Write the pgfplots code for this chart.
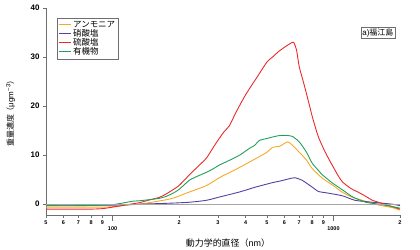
\documentclass[border=0pt]{standalone}
\usepackage{fontspec}
\setmainfont{Liberation Sans}
\newfontfamily\jp{Noto Sans CJK JP}
\usepackage{pgfplots}
\pgfplotsset{compat=1.18}
\definecolor{cAmm}{RGB}{246,168,38}
\definecolor{cNit}{RGB}{88,62,160}
\definecolor{cSul}{RGB}{236,40,40}
\definecolor{cOrg}{RGB}{30,160,90}
\definecolor{axgray}{RGB}{110,110,110}
\begin{document}
\begin{tikzpicture}
\begin{axis}[
  scale only axis, width=354bp, height=207bp,
  xmode=log, xmin=50, xmax=2000, ymin=-2.2, ymax=40,
  axis lines=left, axis line style={-, axgray},
  /pgf/number format/assume math mode=true,
  tick align=outside, tick style={axgray},
  major tick length=3bp,
  ytick={0,10,20,30,40},
  yticklabel style={font=\bfseries\fontsize{8}{8}\selectfont},
  xtick={50,60,70,80,90,200,300,400,500,600,700,800,900,2000},
  xticklabels={5,6,7,8,9,2,3,4,5,6,7,8,9,2},
  xticklabel style={font=\bfseries\fontsize{5.5}{5.5}\selectfont, yshift=1bp},
  extra x ticks={100,1000},
  extra x tick labels={100,1000},
  extra x tick style={major tick length=6bp, tick label style={font=\fontsize{10}{10}\selectfont, yshift=-3bp}},
  xlabel={{\jp 動力学的直径（}nm{\jp ）}},
  xlabel style={at={(axis description cs:0.514,-0.135)}, anchor=center, font=\fontsize{9}{9}\selectfont},
  ylabel={{\jp 重量濃度（}μgm\textsuperscript{−3}{\jp ）}},
  ylabel style={at={(axis description cs:-0.1,0.5)}, anchor=center, font=\fontsize{8}{8}\selectfont},
  legend style={at={(rel axis cs:0.031,0.952)}, anchor=north west, draw=axgray,
    font=\jp\fontsize{8.5}{8.5}\selectfont, inner sep=1pt, row sep=-3.5pt},
  legend cell align=left,
  legend image code/.code={\draw[#1, line width=1pt] plot coordinates {(0bp,0bp) (12bp,0bp)};},
  every axis plot/.append style={line width=0.9pt, smooth, tension=0.4},
]
\addplot[cAmm] coordinates {
(50,-0.6)(70,-0.6)(90,-0.6)(100,-0.5)(115,-0.2)(132,0)(160,0.6)(187,1.2)(223,2.5)
(266,3.8)(307,5.5)(340,6.5)(376,7.5)(445,9.3)(500,10.6)(530,11.6)(570,11.8)(620,12.7)
(653,12)(700,10.6)(755,9)(800,7.3)(890,5.3)(990,3.9)(1100,2.4)(1220,1.4)(1400,0.6)
(1610,-0.2)(1850,-0.7)(2000,-1.2)};
\addlegendentry{アンモニア}
\addplot[cNit] coordinates {
(50,-0.2)(70,-0.2)(90,-0.2)(100,-0.2)(132,0)(180,0.2)(223,0.4)(266,0.8)(307,1.5)
(376,2.5)(445,3.5)(530,4.4)(570,4.7)(620,5.1)(667,5.4)(720,4.9)(760,4.2)(800,3.5)
(855,2.6)(935,2.3)(1100,1.7)(1250,0.8)(1500,0.4)(1850,0)(2000,-0.3)};
\addlegendentry{硝酸塩}
\addplot[cSul] coordinates {
(50,-1)(60,-1)(70,-1)(80,-1)(90,-0.9)(100,-0.6)(110,-0.3)(120,0)(132,0.3)(145,0.8)
(163,1.4)(175,2.1)(187,2.9)(200,3.8)(223,6)(245,7.8)(266,9.4)(285,11.5)(305,13.5)
(320,14.8)(338,16)(360,18.5)(380,20.5)(400,22.3)(430,24.5)(460,26.5)(500,29)(530,30)
(560,31)(600,32)(640,32.8)(660,33)(680,31.5)(700,28)(725,25.5)(750,23)(780,20)(800,18)
(850,14)(900,11.4)(950,9.3)(1000,7.5)(1050,5.8)(1100,4.5)(1200,3.2)(1300,2.4)(1400,1.6)
(1500,0.8)(1600,0.4)(1700,0)(1850,-0.5)(2000,-1)};
\addlegendentry{硫酸塩}
\addplot[cOrg] coordinates {
(50,-0.3)(70,-0.3)(90,-0.2)(100,-0.1)(110,0.2)(123,0.6)(132,0.7)(145,0.9)(163,1.2)
(175,1.6)(187,2.2)(200,3)(223,4.9)(245,5.8)(266,6.5)(285,7.2)(305,8)(340,9)(376,10)
(417,11.4)(440,12)(462,13)(500,13.4)(530,13.7)(570,14)(620,14)(653,13.8)(700,12.7)
(755,10.6)(800,8.4)(850,7)(890,6)(990,4.3)(1100,2.9)(1220,1.5)(1400,0.4)(1610,0)
(1850,-0.5)(2000,-0.8)};
\addlegendentry{有機物}
\addplot[gray!70, forget plot, line width=0.7pt] coordinates {(50,0)(2000,0)};
\node[draw=axgray, inner sep=1.5pt, anchor=east, font=\fontsize{8}{8}\selectfont]
  at (rel axis cs:0.986,0.88) {a){\jp 福江島}};
\end{axis}
\pgfresetboundingbox
\path[use as bounding box] ([xshift=-46bp,yshift=-35bp]current axis.south west)
  rectangle ([xshift=20bp,yshift=8bp]current axis.north east);
\end{tikzpicture}
\end{document}
